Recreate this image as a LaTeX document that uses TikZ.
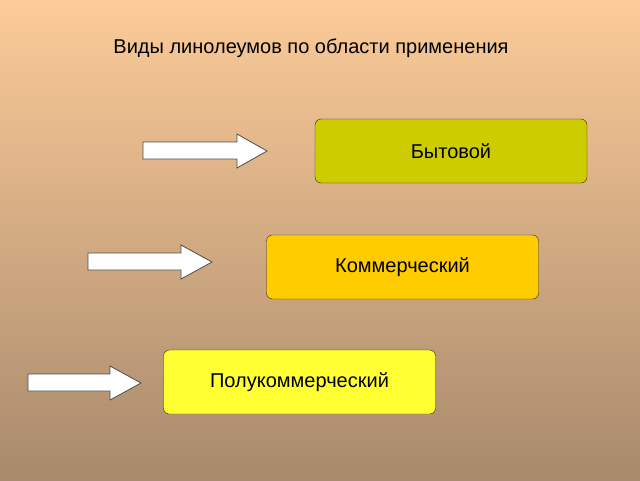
\documentclass[tikz,border=0pt]{standalone}
\usepackage{fontspec}
\setmainfont{Liberation Sans}
\definecolor{bgtop}{HTML}{FCCB98}
\definecolor{bgbot}{HTML}{A88A6C}
\definecolor{kind1}{HTML}{CCCC00}
\definecolor{kind2}{HTML}{FFCC00}
\definecolor{kind3}{HTML}{FFFF33}
\tikzset{
  kindbox/.style={draw=black!70!brown, rounded corners=6pt, minimum width=272pt,
    minimum height=64pt, inner sep=0pt, font=\fontsize{20}{24}\selectfont},
  blockarrow/.style={draw=black!70, fill=white, line width=0.8pt}
}
\begin{document}
\begin{tikzpicture}[x=1pt,y=-1pt]
\shade[top color=bgtop, bottom color=bgbot] (0,0) rectangle (640,480);
\useasboundingbox (0,0) rectangle (640,480);

\node[font=\fontsize{20}{24}\selectfont](title) at (311,48) {Виды линолеумов по области применения};

\node[kindbox, fill=kind1](home) at (451,151) {Бытовой};
\node[kindbox, fill=kind2](comm) at (402.5,267) {Коммерческий};
\node[kindbox, fill=kind3](semi) at (299.5,382) {Полукоммерческий};

% arrows
\draw[blockarrow] (143,142) -- (237,142) -- (237,134) -- (267,151) -- (237,168) -- (237,159) -- (143,159) -- cycle;
\draw[blockarrow] (88,253) -- (181,253) -- (181,245) -- (212,262) -- (181,279) -- (181,270) -- (88,270) -- cycle;
\draw[blockarrow] (28,374) -- (110,374) -- (110,366) -- (141,383) -- (110,400) -- (110,391) -- (28,391) -- cycle;

\end{tikzpicture}
\end{document}
